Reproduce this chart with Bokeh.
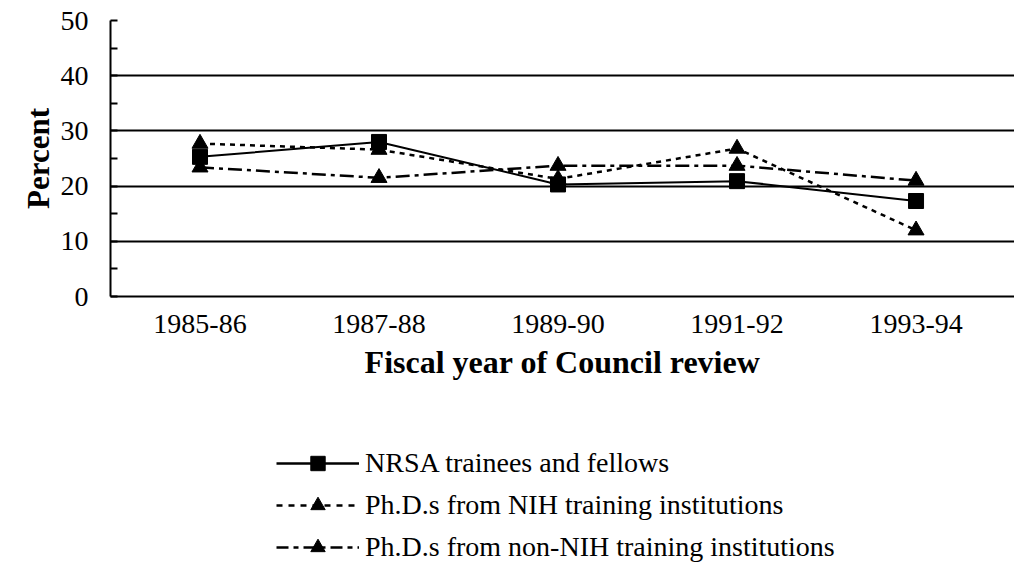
from bokeh.plotting import figure
from bokeh.layouts import column
from bokeh.models import Range1d, FixedTicker, SingleIntervalTicker, Legend, LegendItem
from bokeh.embed import file_html
from bokeh.resources import INLINE

years = ["1985-86", "1987-88", "1989-90", "1991-92", "1993-94"]
nrsa = [25.3, 28.0, 20.3, 20.9, 17.3]
nih = [27.7, 26.6, 21.3, 26.8, 12.0]
non_nih = [23.4, 21.5, 23.7, 23.7, 21.0]
series_names = ["NRSA trainees and fellows",
                "Ph.D.s from NIH training institutions",
                "Ph.D.s from non-NIH training institutions"]

xs = list(range(len(years)))
FONT = "Liberation Serif"

p = figure(width=1014, height=400, x_range=Range1d(-0.5, 4.55), y_range=Range1d(0, 50),
           output_backend="svg", toolbar_location=None,
           min_border_left=110, min_border_right=0, min_border_top=20, min_border_bottom=104)
p.outline_line_color = None
p.background_fill_color = "white"
p.border_fill_color = "white"

# grid
p.xgrid.visible = False
p.ygrid.grid_line_color = "black"
p.ygrid.grid_line_width = 2

# x axis
xa = p.xaxis[0]
xa.ticker = FixedTicker(ticks=xs)
xa.major_label_overrides = {i: y for i, y in enumerate(years)}
xa.major_tick_in = 0
xa.major_tick_out = 0
xa.minor_tick_in = 0
xa.minor_tick_out = 0
xa.axis_line_color = "black"
xa.axis_line_width = 2
xa.major_label_text_font = FONT
xa.major_label_text_font_size = "28px"
xa.major_label_text_color = "black"
xa.major_label_standoff = 18
xa.axis_label = "Fiscal year of Council review"
xa.axis_label_text_font = FONT
xa.axis_label_text_font_size = "32px"
xa.axis_label_text_font_style = "bold"
xa.axis_label_text_color = "black"
xa.axis_label_standoff = 8

# y axis
ya = p.yaxis[0]
ya.ticker = SingleIntervalTicker(interval=10, num_minor_ticks=2)
ya.major_tick_in = 0
ya.major_tick_out = 0
ya.minor_tick_in = 7
ya.minor_tick_out = 0
ya.minor_tick_line_color = "black"
ya.minor_tick_line_width = 2
ya.axis_line_color = "black"
ya.axis_line_width = 2
ya.major_label_text_font = FONT
ya.major_label_text_font_size = "28px"
ya.major_label_text_color = "black"
ya.major_label_standoff = 22
ya.axis_label = "Percent"
ya.axis_label_text_font = FONT
ya.axis_label_text_font_size = "31px"
ya.axis_label_text_font_style = "bold"
ya.axis_label_text_color = "black"
ya.axis_label_standoff = 2

styles = [
    dict(dash="solid", width=2, marker="square", size=15),
    dict(dash="5 5", width=2.5, marker="triangle", size=16),
    dict(dash="14 5 4 5", width=2.5, marker="triangle", size=16),
]
all_series = [nrsa, nih, non_nih]

for vals, st in zip(all_series, styles):
    p.line(xs, vals, line_color="black", line_width=st["width"], line_dash=st["dash"])
    p.scatter(xs, vals, marker=st["marker"], size=st["size"], fill_color="black", line_color="black")

# legend figure below (renderers hidden; used only for the legend swatches)
p2 = figure(width=1014, height=165, x_range=Range1d(0, 1), y_range=Range1d(0, 1),
            output_backend="svg", toolbar_location=None,
            min_border_left=0, min_border_right=0, min_border_top=0, min_border_bottom=0)
p2.axis.visible = False
p2.grid.visible = False
p2.outline_line_color = None
p2.background_fill_color = "white"
p2.border_fill_color = "white"

legend_dash = ["solid", "6 6", "12 5 5 5"]
items = []
for name, vals, st, ld in zip(series_names, all_series, styles, legend_dash):
    lr = p2.line(xs, vals, line_color="black", line_width=2.5, line_dash=ld, visible=False)
    mr = p2.scatter(xs, vals, marker=st["marker"], size=st["size"], fill_color="black",
                    line_color="black", visible=False)
    items.append(LegendItem(label=name, renderers=[lr, mr]))

legend = Legend(items=items, location=(166, 0))
legend.click_policy = "none"
legend.inactive_fill_alpha = 0
legend.border_line_color = None
legend.background_fill_alpha = 0
legend.padding = 0
legend.margin = 0
legend.spacing = 6
legend.glyph_width = 83
legend.glyph_height = 36
legend.label_height = 36
legend.label_standoff = 6
legend.label_text_font = FONT
legend.label_text_font_size = "28px"
legend.label_text_color = "black"
legend.label_text_baseline = "middle"
p2.add_layout(legend, "center")

layout = column(p, p2, spacing=0)
open("out.html", "w").write(file_html(layout, INLINE))
